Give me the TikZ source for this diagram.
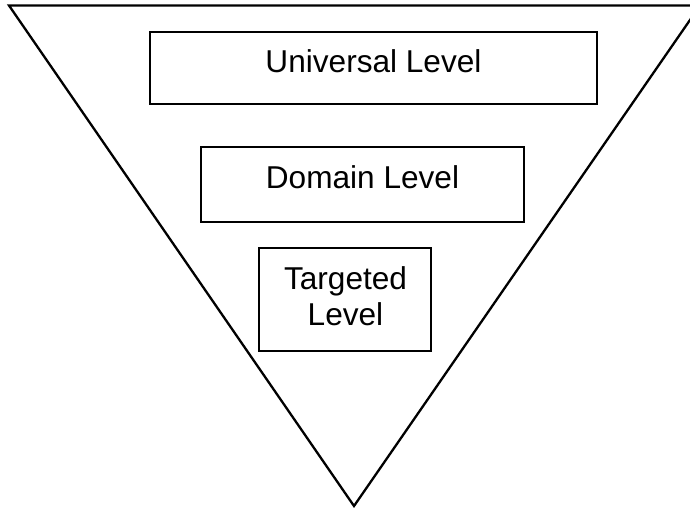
\documentclass[tikz,border=0pt]{standalone}
\usepackage{fontspec}
\setmainfont{Liberation Sans}
\begin{document}
\begin{tikzpicture}[x=1pt,y=-1pt,
  levelbox/.style={draw=black, line width=2pt, fill=white, inner sep=0pt},
  lbl/.style={font=\fontsize{31.6}{36.3}\selectfont, inner sep=0pt, anchor=base}]
\useasboundingbox (0,0) rectangle (690,508);
\clip (0,0) rectangle (690,508);
\coordinate (tl) at (9,5.5);
\coordinate (tr) at (700,5.5);
\coordinate (bt) at (354,506);
\draw[line width=2.3pt, line join=miter] (tl) -- (tr) -- (bt) -- cycle;
\node[levelbox, minimum width=447pt, minimum height=72pt] (ub) at (373.5,68) {};
\node[levelbox, minimum width=323pt, minimum height=75pt] (db) at (362.3,184.5) {};
\node[levelbox, minimum width=172pt, minimum height=103pt] (tb) at (345,299.5) {};
\node[lbl] (ut) at (373.5,73) {Universal Level};
\node[lbl] (dt) at (362.5,188) {Domain Level};
\node[lbl] (tt1) at (345.5,289) {Targeted};
\node[lbl] (tt2) at (345.5,325) {Level};
\end{tikzpicture}
\end{document}
